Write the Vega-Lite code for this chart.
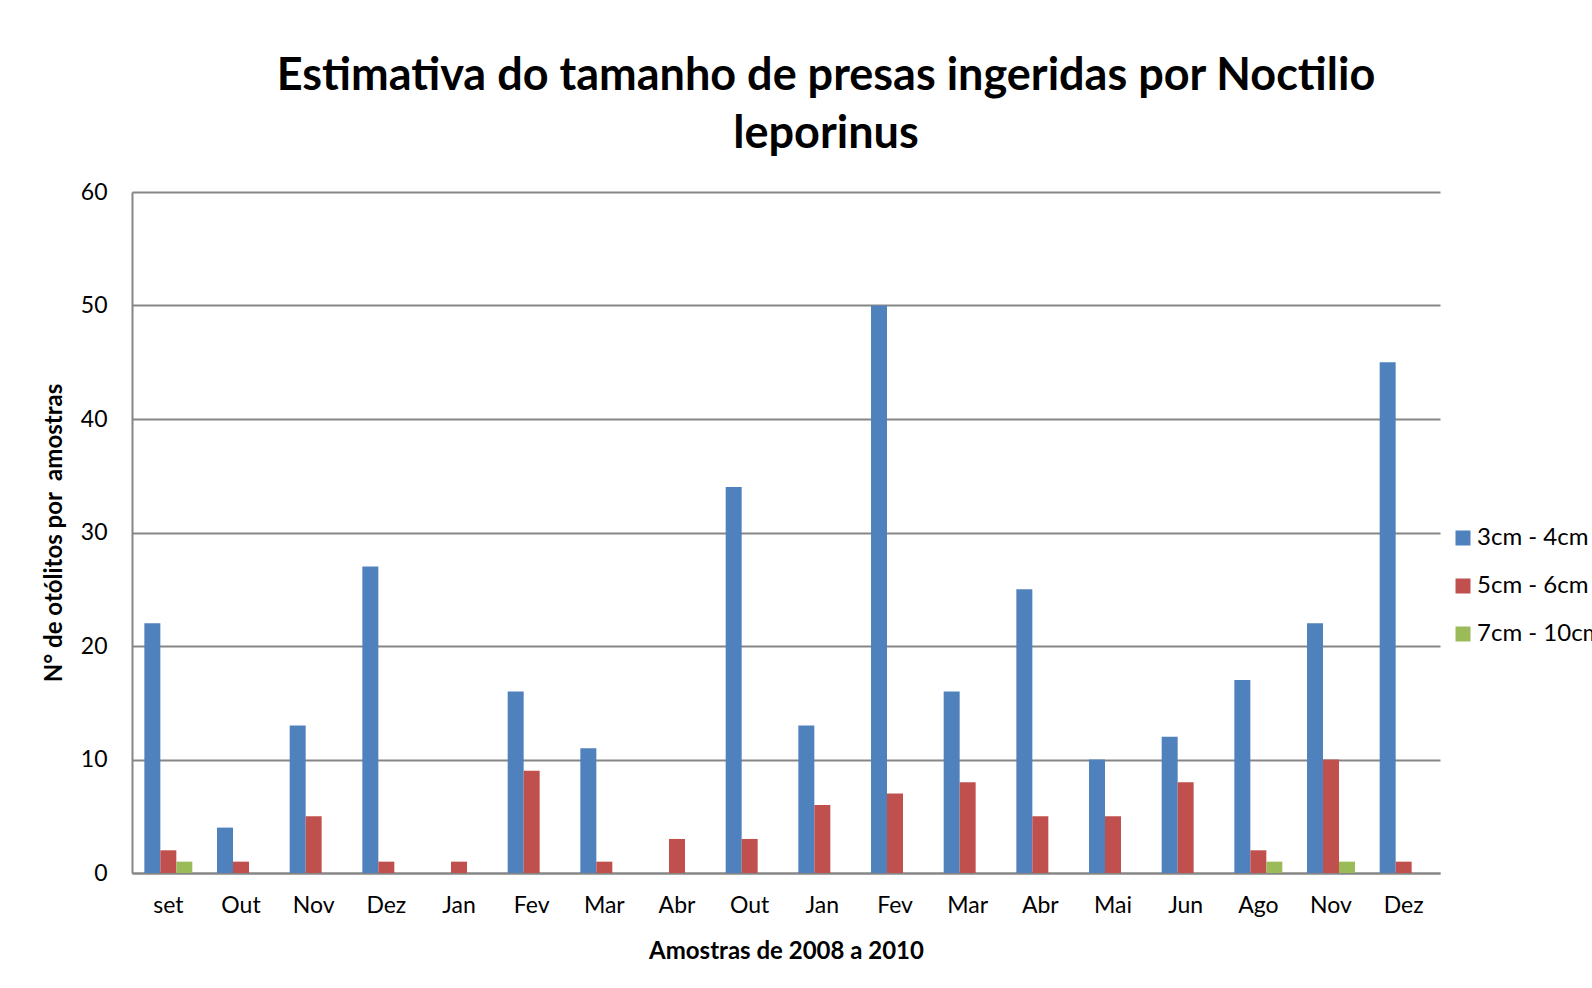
{
  "$schema": "https://vega.github.io/schema/vega-lite/v6.json",
  "autosize": {"type": "none"},
  "padding": {"left": 132, "top": 192, "right": 152, "bottom": 115},
  "width": 1308,
  "height": 681,
  "background": "white",
  "title": {
    "text": ["Estimativa do tamanho de presas ingeridas por Noctilio", "leporinus"],
    "font": "Lato",
    "fontSize": 45,
    "fontWeight": "bold",
    "color": "black",
    "anchor": "middle",
    "dx": 40,
    "offset": 24,
    "lineHeight": 58
  },
  "data": {
    "values": [
      {"amostra": "set 2008", "classe": "3cm - 4cm", "n": 22},
      {"amostra": "set 2008", "classe": "5cm - 6cm", "n": 2},
      {"amostra": "set 2008", "classe": "7cm - 10cm", "n": 1},
      {"amostra": "Out 2008", "classe": "3cm - 4cm", "n": 4},
      {"amostra": "Out 2008", "classe": "5cm - 6cm", "n": 1},
      {"amostra": "Out 2008", "classe": "7cm - 10cm", "n": 0},
      {"amostra": "Nov 2008", "classe": "3cm - 4cm", "n": 13},
      {"amostra": "Nov 2008", "classe": "5cm - 6cm", "n": 5},
      {"amostra": "Nov 2008", "classe": "7cm - 10cm", "n": 0},
      {"amostra": "Dez 2008", "classe": "3cm - 4cm", "n": 27},
      {"amostra": "Dez 2008", "classe": "5cm - 6cm", "n": 1},
      {"amostra": "Dez 2008", "classe": "7cm - 10cm", "n": 0},
      {"amostra": "Jan 2009", "classe": "3cm - 4cm", "n": 0},
      {"amostra": "Jan 2009", "classe": "5cm - 6cm", "n": 1},
      {"amostra": "Jan 2009", "classe": "7cm - 10cm", "n": 0},
      {"amostra": "Fev 2009", "classe": "3cm - 4cm", "n": 16},
      {"amostra": "Fev 2009", "classe": "5cm - 6cm", "n": 9},
      {"amostra": "Fev 2009", "classe": "7cm - 10cm", "n": 0},
      {"amostra": "Mar 2009", "classe": "3cm - 4cm", "n": 11},
      {"amostra": "Mar 2009", "classe": "5cm - 6cm", "n": 1},
      {"amostra": "Mar 2009", "classe": "7cm - 10cm", "n": 0},
      {"amostra": "Abr 2009", "classe": "3cm - 4cm", "n": 0},
      {"amostra": "Abr 2009", "classe": "5cm - 6cm", "n": 3},
      {"amostra": "Abr 2009", "classe": "7cm - 10cm", "n": 0},
      {"amostra": "Out 2009", "classe": "3cm - 4cm", "n": 34},
      {"amostra": "Out 2009", "classe": "5cm - 6cm", "n": 3},
      {"amostra": "Out 2009", "classe": "7cm - 10cm", "n": 0},
      {"amostra": "Jan 2010", "classe": "3cm - 4cm", "n": 13},
      {"amostra": "Jan 2010", "classe": "5cm - 6cm", "n": 6},
      {"amostra": "Jan 2010", "classe": "7cm - 10cm", "n": 0},
      {"amostra": "Fev 2010", "classe": "3cm - 4cm", "n": 50},
      {"amostra": "Fev 2010", "classe": "5cm - 6cm", "n": 7},
      {"amostra": "Fev 2010", "classe": "7cm - 10cm", "n": 0},
      {"amostra": "Mar 2010", "classe": "3cm - 4cm", "n": 16},
      {"amostra": "Mar 2010", "classe": "5cm - 6cm", "n": 8},
      {"amostra": "Mar 2010", "classe": "7cm - 10cm", "n": 0},
      {"amostra": "Abr 2010", "classe": "3cm - 4cm", "n": 25},
      {"amostra": "Abr 2010", "classe": "5cm - 6cm", "n": 5},
      {"amostra": "Abr 2010", "classe": "7cm - 10cm", "n": 0},
      {"amostra": "Mai 2010", "classe": "3cm - 4cm", "n": 10},
      {"amostra": "Mai 2010", "classe": "5cm - 6cm", "n": 5},
      {"amostra": "Mai 2010", "classe": "7cm - 10cm", "n": 0},
      {"amostra": "Jun 2010", "classe": "3cm - 4cm", "n": 12},
      {"amostra": "Jun 2010", "classe": "5cm - 6cm", "n": 8},
      {"amostra": "Jun 2010", "classe": "7cm - 10cm", "n": 0},
      {"amostra": "Ago 2010", "classe": "3cm - 4cm", "n": 17},
      {"amostra": "Ago 2010", "classe": "5cm - 6cm", "n": 2},
      {"amostra": "Ago 2010", "classe": "7cm - 10cm", "n": 1},
      {"amostra": "Nov 2010", "classe": "3cm - 4cm", "n": 22},
      {"amostra": "Nov 2010", "classe": "5cm - 6cm", "n": 10},
      {"amostra": "Nov 2010", "classe": "7cm - 10cm", "n": 1},
      {"amostra": "Dez 2010", "classe": "3cm - 4cm", "n": 45},
      {"amostra": "Dez 2010", "classe": "5cm - 6cm", "n": 1},
      {"amostra": "Dez 2010", "classe": "7cm - 10cm", "n": 0}
    ]
  },
  "mark": {"type": "bar"},
  "encoding": {
    "x": {
      "field": "amostra",
      "type": "nominal",
      "sort": null,
      "scale": {"paddingInner": 0.34, "paddingOuter": 0.17},
      "axis": {
        "title": "Amostras de 2008 a 2010",
        "labelExpr": "split(datum.value, ' ')[0]",
        "labelAngle": 0,
        "labelFont": "Lato",
        "labelFontSize": 23,
        "labelColor": "black",
        "labelPadding": 21,
        "ticks": false,
        "domainColor": "#868686",
        "domainWidth": 2,
        "titleFont": "Lato",
        "titleFontSize": 24,
        "titleFontWeight": "bold",
        "titleColor": "black",
        "titlePadding": 22
      }
    },
    "xOffset": {
      "field": "classe",
      "type": "nominal",
      "scale": {"domain": ["3cm - 4cm", "5cm - 6cm", "7cm - 10cm"]}
    },
    "y": {
      "field": "n",
      "type": "quantitative",
      "scale": {"domain": [0, 60], "nice": false},
      "axis": {
        "title": "N° de otólitos por\u00a0 amostras",
        "values": [0, 10, 20, 30, 40, 50, 60],
        "labelFont": "Lato",
        "labelFontSize": 23,
        "labelColor": "black",
        "labelPadding": 25,
        "ticks": false,
        "domainColor": "#868686",
        "domainWidth": 2,
        "gridColor": "#868686",
        "gridWidth": 2,
        "titleFont": "Lato",
        "titleFontSize": 24,
        "titleFontWeight": "bold",
        "titleColor": "black",
        "titlePadding": 14
      }
    },
    "color": {
      "field": "classe",
      "type": "nominal",
      "scale": {
        "domain": ["3cm - 4cm", "5cm - 6cm", "7cm - 10cm"],
        "range": ["#4F81BD", "#C0504D", "#9BBB59"]
      },
      "legend": {
        "title": null,
        "orient": "none",
        "legendX": 1319,
        "legendY": 334,
        "symbolType": "square",
        "symbolSize": 225,
        "symbolStrokeWidth": 0,
        "labelFont": "Lato",
        "labelFontSize": 24,
        "labelColor": "black",
        "labelOffset": 2,
        "rowPadding": 24
      }
    }
  },
  "config": {
    "view": {"stroke": null}
  }
}
